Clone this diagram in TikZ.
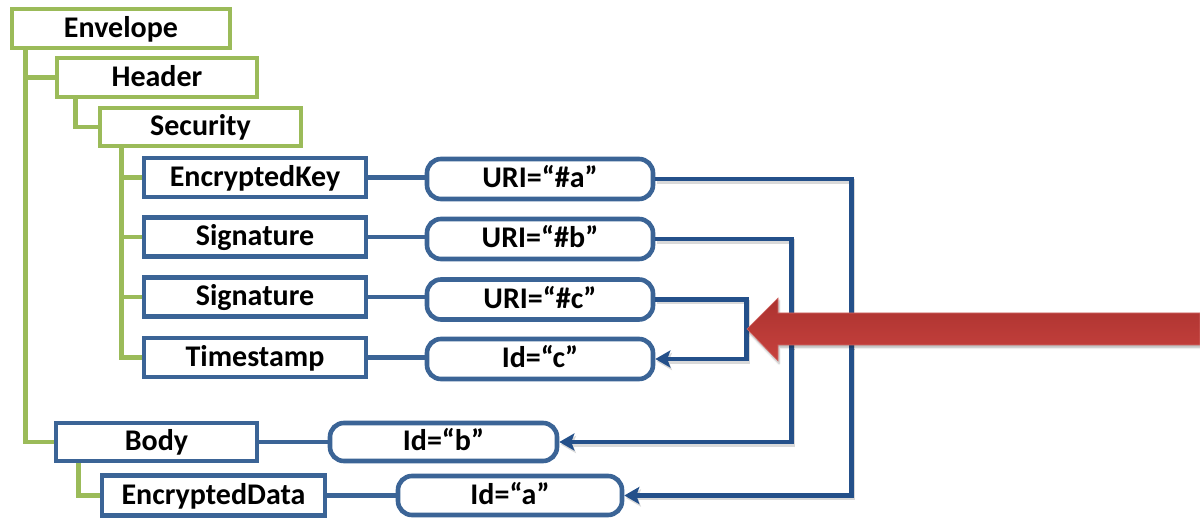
\documentclass[tikz,border=0pt]{standalone}
\usepackage{fontspec}
\setmainfont{Carlito}
\usetikzlibrary{arrows.meta,shadows.blur}
\definecolor{leafgreen}{HTML}{9BBB59}
\definecolor{boxblue}{HTML}{3B6496}
\definecolor{refblue}{HTML}{24508A}
\definecolor{redtop}{HTML}{AB322F}
\definecolor{redbot}{HTML}{C7423E}
\tikzset{
  lbl/.style={font=\fontsize{30}{32}\selectfont\bfseries, text=black, inner sep=0pt,
    text height=18pt, text depth=0pt},
  gbox/.style={lbl, draw=leafgreen, line width=4.6pt, fill=white, rectangle},
  bbox/.style={lbl, draw=boxblue, line width=4.6pt, fill=white, rectangle, minimum width=222pt, minimum height=39pt},
  rbox/.style={lbl, draw=boxblue, line width=4.6pt, fill=white, rounded corners=14pt, minimum height=40pt},
  gline/.style={draw=leafgreen, line width=4.6pt},
  bline/.style={draw=boxblue, line width=4.2pt},
  refline/.style={draw=refblue, line width=4.6pt, line join=miter,
    preaction={draw=black!15, line width=4.6pt, transform canvas={shift={(1.5pt,-2.5pt)}}}},
  reftip/.style={-{Stealth[length=15pt,width=17pt,inset=3pt]}}
}
\begin{document}
\begin{tikzpicture}[x=1pt,y=-1pt]
\useasboundingbox (0,0) rectangle (1200,518);

% XML tree: envelope, header, security
\node[gbox, minimum width=218pt, minimum height=39pt] (env) at (121,28.5) {Envelope};
\node[gbox, minimum width=200pt, minimum height=39pt] (hdr) at (157,77.5) {Header};
\node[gbox, minimum width=201pt, minimum height=38pt] (sec) at (200.5,127) {Security};

% security header children
\node[bbox] (ek)   at (255,177.5) {EncryptedKey};
\node[bbox] (sig1) at (255,237)   {Signature};
\node[bbox] (sig2) at (255,297)   {Signature};
\node[bbox] (ts)   at (255,357.5) {Timestamp};

% body and its content
\node[bbox, minimum width=201pt, minimum height=38pt] (body) at (156.5,442) {Body};
\node[bbox, minimum width=223pt, minimum height=40pt] (ed) at (213.5,495.5) {EncryptedData};

% reference / identifier attributes
\node[rbox, minimum width=226pt] (uria) at (540,179)   {URI=“\#a”};
\node[rbox, minimum width=226pt] (urib) at (540,239)   {URI=“\#b”};
\node[rbox, minimum width=226pt] (uric) at (540,299.5) {URI=“\#c”};
\node[rbox, minimum width=226pt] (idc)  at (540,359)   {Id=“c”};
\node[rbox, minimum width=227pt, minimum height=38pt] (idb) at (443.5,442) {Id=“b”};
\node[rbox, minimum width=224pt, minimum height=39pt] (ida) at (510,495.5) {Id=“a”};

% tree connectors
\draw[gline] ([xshift=16pt]env.south west) |- (body.west);
\draw[gline] ([xshift=16pt]env.south west) |- (hdr.west);
\draw[gline] ([xshift=21pt]hdr.south west) |- (sec.west);
\draw[gline] ([xshift=24pt]sec.south west) |- (ts.west);
\draw[gline] ([xshift=24pt]sec.south west) |- (sig2.west);
\draw[gline] ([xshift=24pt]sec.south west) |- (sig1.west);
\draw[gline] ([xshift=24pt]sec.south west) |- (ek.west);
\draw[gline] ([xshift=25pt]body.south west) |- (ed.west);

% element to attribute links
\draw[bline] (ek.east) -- (ek.east -| uria.west);
\draw[bline] (sig1.east) -- (sig1.east -| urib.west);
\draw[bline] (sig2.east) -- (sig2.east -| uric.west);
\draw[bline] (ts.east) -- (ts.east -| idc.west);
\draw[bline] (body.east) -- (body.east -| idb.west);
\draw[bline] (ed.east) -- (ed.east -| ida.west);

% references resolved to identifiers
\draw[refline, reftip] (uria.east) -- ++(196,0) |- (ida.east);
\draw[refline, reftip] (urib.east) -- ++(136,0) |- (idb.east);
\draw[refline, reftip] (uric.east) -- ++(91,0) |- (idc.east);

% large red arrow
\shade[top color=redtop, bottom color=redbot, draw=redbot!80!white, line width=0.6pt,
  blur shadow={shadow xshift=1pt, shadow yshift=-2.5pt, shadow blur steps=6, shadow opacity=30}]
  (747,329) -- (778,298) -- (778,313) -- (1200,313) -- (1200,345) -- (778,345) -- (778,361) -- cycle;
\end{tikzpicture}
\end{document}
